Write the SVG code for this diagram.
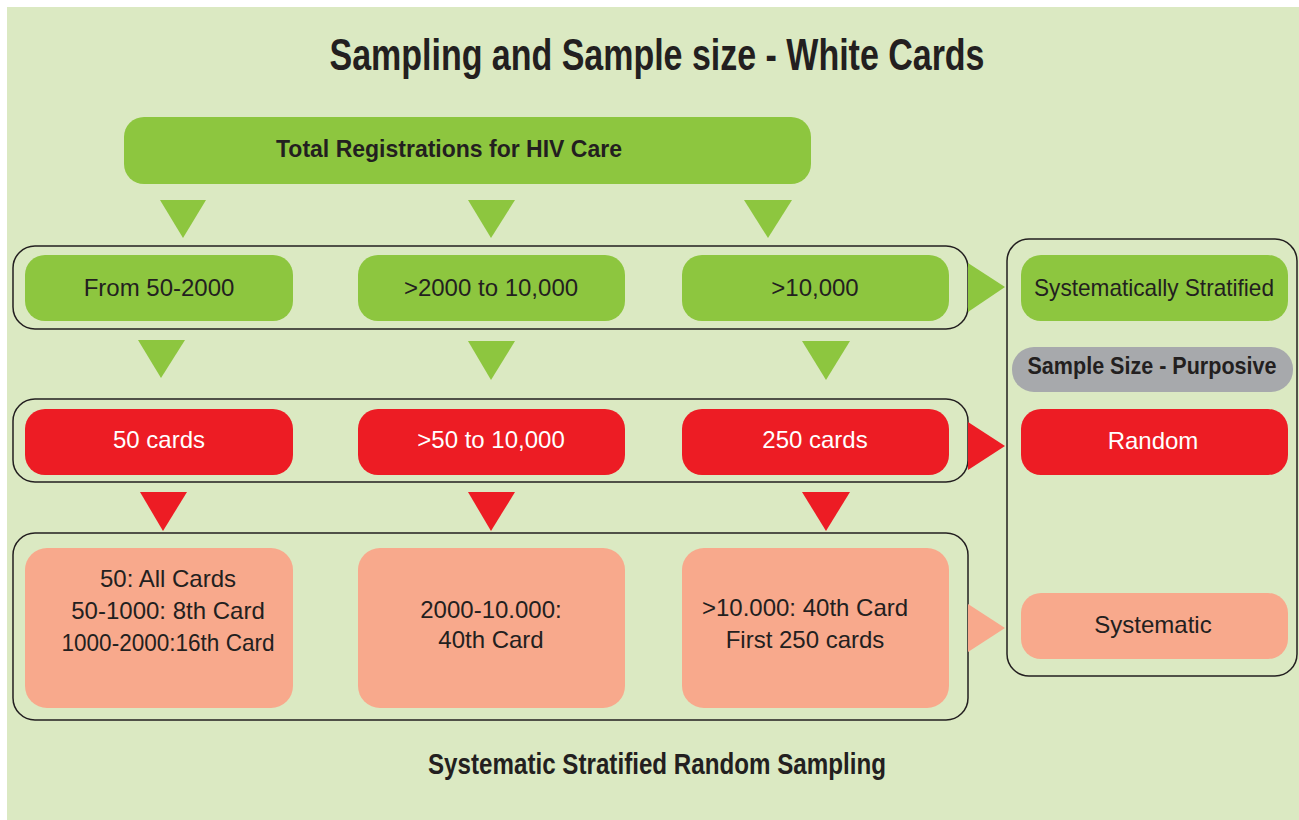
<svg xmlns="http://www.w3.org/2000/svg" width="1299" height="820" viewBox="0 0 1299 820">
<style>
.t{font-family:"Liberation Sans",Arial,sans-serif;fill:#231f20;text-anchor:middle}
.b{font-weight:bold}
.w{fill:#ffffff}
.g{fill:#8dc63f}
.r{fill:#ed1c24}
.s{fill:#f8a98c}
.gr{fill:#a7a9ac}
.frame{fill:none;stroke:#231f20;stroke-width:1.5}
</style>
<rect x="7" y="7" width="1292" height="813" fill="#dbe9c2"/>
<text class="t b" x="657" y="70" font-size="44" textLength="655" lengthAdjust="spacingAndGlyphs">Sampling and Sample size - White Cards</text>

<g id="frames">
<rect class="frame" x="13" y="246" width="955" height="83" rx="22"/>
<rect class="frame" x="13" y="399" width="955" height="83" rx="22"/>
<rect class="frame" x="13" y="533" width="955" height="187" rx="22"/>
<rect class="frame" x="1007" y="239" width="290" height="437" rx="22"/>
</g>

<g id="connectors">
<polygon class="g" points="160,200 206,200 183,238"/>
<polygon class="g" points="468,200 515,200 491,238"/>
<polygon class="g" points="744,200 792,200 768,238"/>
<polygon class="g" points="138,340 185,340 161,378"/>
<polygon class="g" points="468,341 515,341 491,380"/>
<polygon class="g" points="802,341 850,341 826,380"/>
<polygon class="r" points="140,492 187,492 163,531"/>
<polygon class="r" points="468,492 515,492 491,531"/>
<polygon class="r" points="802,492 850,492 826,531"/>
<polygon class="g" points="968,263 1005,287 968,312"/>
<polygon class="r" points="968,422 1005,446 968,470"/>
<polygon class="s" points="968,604 1005,628 968,652"/>
</g>

<g id="total">
<rect class="g" x="124" y="117" width="687" height="67" rx="20"/>
<text class="t b" x="449" y="157" font-size="24" textLength="346" lengthAdjust="spacingAndGlyphs">Total Registrations for HIV Care</text>
</g>

<g id="from50">
<rect class="g" x="25" y="255" width="268" height="66" rx="20"/>
<text class="t" x="159" y="296" font-size="24">From 50-2000</text>
</g>
<g id="gt2000">
<rect class="g" x="358" y="255" width="267" height="66" rx="20"/>
<text class="t" x="491" y="296" font-size="24">&gt;2000 to 10,000</text>
</g>
<g id="gt10000">
<rect class="g" x="682" y="255" width="267" height="66" rx="20"/>
<text class="t" x="815" y="296" font-size="24">&gt;10,000</text>
</g>

<g id="cards50">
<rect class="r" x="25" y="409" width="268" height="66" rx="20"/>
<text class="t w" x="159" y="448" font-size="24">50 cards</text>
</g>
<g id="cards50to10000">
<rect class="r" x="358" y="409" width="267" height="66" rx="20"/>
<text class="t w" x="491" y="448" font-size="24">&gt;50 to 10,000</text>
</g>
<g id="cards250">
<rect class="r" x="682" y="409" width="267" height="66" rx="20"/>
<text class="t w" x="815" y="448" font-size="24">250 cards</text>
</g>

<g id="sys1">
<rect class="s" x="25" y="548" width="268" height="160" rx="22"/>
<text class="t" x="168" y="587" font-size="24">50: All Cards</text>
<text class="t" x="168" y="619" font-size="24">50-1000: 8th Card</text>
<text class="t" x="168" y="651" font-size="24" textLength="213" lengthAdjust="spacingAndGlyphs">1000-2000:16th Card</text>
</g>
<g id="sys2">
<rect class="s" x="358" y="548" width="267" height="160" rx="22"/>
<text class="t" x="491" y="618" font-size="24">2000-10.000:</text>
<text class="t" x="491" y="648" font-size="24">40th Card</text>
</g>
<g id="sys3">
<rect class="s" x="682" y="548" width="267" height="160" rx="22"/>
<text class="t" x="805" y="616" font-size="24">&gt;10.000: 40th Card</text>
<text class="t" x="805" y="648" font-size="24">First 250 cards</text>
</g>

<g id="stratified">
<rect class="g" x="1021" y="255" width="267" height="66" rx="20"/>
<text class="t" x="1154" y="296" font-size="24" textLength="240" lengthAdjust="spacingAndGlyphs">Systematically Stratified</text>
</g>
<g id="purposive">
<rect class="gr" x="1012" y="347" width="281" height="45" rx="22"/>
<text class="t b" x="1152" y="374" font-size="23" textLength="249" lengthAdjust="spacingAndGlyphs">Sample Size - Purposive</text>
</g>
<g id="random">
<rect class="r" x="1021" y="409" width="267" height="66" rx="20"/>
<text class="t w" x="1153" y="449" font-size="24">Random</text>
</g>
<g id="systematic">
<rect class="s" x="1021" y="593" width="267" height="66" rx="20"/>
<text class="t" x="1153" y="633" font-size="24">Systematic</text>
</g>

<text class="t b" x="657" y="774" font-size="29" textLength="458" lengthAdjust="spacingAndGlyphs">Systematic Stratified Random Sampling</text>
</svg>
